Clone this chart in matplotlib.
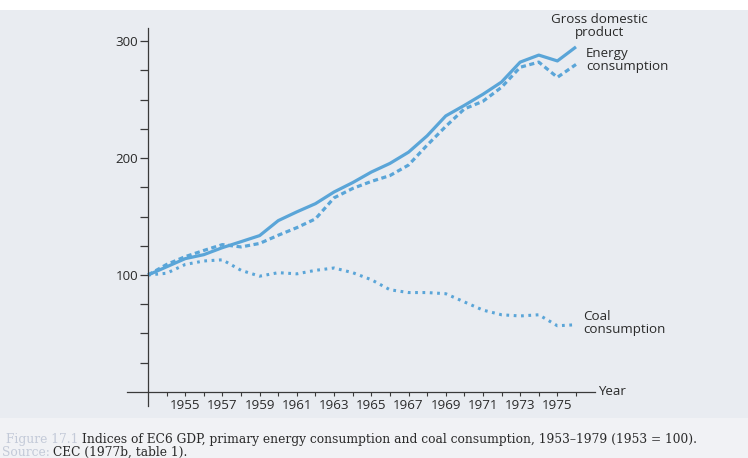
import matplotlib
matplotlib.use("Agg")
import matplotlib.pyplot as plt
from matplotlib.patches import Rectangle

years = list(range(1953, 1977))
gdp = [100, 107, 114, 117.4, 123.4, 128.5, 133.7, 146.5, 154, 161, 171, 179, 188,
       195.4, 205, 219, 236, 245, 254.5, 265, 282, 288, 283, 295]
energy = [100, 109, 115.7, 121, 126, 124, 127, 134, 140.5, 148, 166, 174, 180,
          185, 194, 211, 227, 242, 248.5, 260.5, 277.6, 282, 269, 280]
coal = [100, 101.5, 109, 112, 113, 104, 99, 102, 101, 104, 106, 102, 96,
        87.4, 85, 85, 84, 77, 70, 66, 65, 66, 56.6, 57.5]

minor_ticks = list(range(25, 325, 25))
major_ticks = [100, 200, 300]
xtick_years = list(range(1954, 1977))
xlabel_years = list(range(1955, 1976, 2))

W, H = 748, 458
fig = plt.figure(figsize=(W / 100, H / 100), dpi=100)
fig.patch.set_facecolor('#e9ecf1')
fig.patches.append(Rectangle((0, 1 - 10 / H), 1, 10 / H, transform=fig.transFigure,
                             facecolor='white', edgecolor='none', zorder=0))
fig.patches.append(Rectangle((0, 0), 1, 40 / H, transform=fig.transFigure,
                             facecolor='#f1f2f5', edgecolor='none', zorder=0))

ax = fig.add_axes([120 / W, 1 - 410 / H, 480 / W, 390 / H])
ax.set_facecolor('none')
ax.set_xlim(1951.495, 1977.29)
ax.set_ylim(-15.4, 318)

col = '#5aa5d8'
ax.plot(years, gdp, color=col, lw=2.3, solid_capstyle='butt', solid_joinstyle='round')
ax.plot(years, energy, color=col, lw=2.3, linestyle=(0, (1.6, 1.1)))
ax.plot(years, coal, color=col, lw=2.2, linestyle=(0, (0.9, 1.5)))

axc = '#3a3a3a'
for s in ['top', 'right']:
    ax.spines[s].set_visible(False)
ax.spines['left'].set_position(('data', 1953))
ax.spines['bottom'].set_position(('data', 0))
ax.spines['left'].set_bounds(-12, 311)
ax.spines['bottom'].set_bounds(1951.87, 1977.02)
for s in ['left', 'bottom']:
    ax.spines[s].set_color(axc)
    ax.spines[s].set_linewidth(0.9)

tfont = dict(family=['Open Sans', 'DejaVu Sans'], size=9.6, color='#2a2a2a')
ax.set_yticks(minor_ticks)
ax.set_yticklabels([str(v) if v in major_ticks else '' for v in minor_ticks], **tfont)
ax.tick_params(axis='y', direction='out', length=6, width=0.9, color=axc, pad=1)
ax.set_xticks(xtick_years)
ax.set_xticklabels([str(v) if v in xlabel_years else '' for v in xtick_years], **tfont)
ax.tick_params(axis='x', direction='out', length=3, width=0.8, color=axc, pad=2)

lfont = dict(family=['Open Sans', 'DejaVu Sans'], size=9.6, color='#2a2a2a', linespacing=1.0)
ax.text(1977.2, 0, 'Year', ha='left', va='center', **lfont)
ax.text(1977.25, 313, 'Gross domestic\nproduct', ha='center', va='center', **lfont)
ax.text(1976.55, 284, 'Energy\nconsumption', ha='left', va='center', **lfont)
ax.text(1976.4, 59, 'Coal\nconsumption', ha='left', va='center', **lfont)

cfont = dict(family=['DejaVu Serif'], size=8.8)
fig.text(78 / W, 1 - 440 / H, 'Figure 17.1', ha='right', va='center', color='#c3cad8', **cfont)
fig.text(82 / W, 1 - 440 / H,
         'Indices of EC6 GDP, primary energy consumption and coal consumption, 1953\u20131979 (1953 = 100).',
         ha='left', va='center', color='#2a2a2a', **cfont)
fig.text(50 / W, 1 - 452 / H, 'Source:', ha='right', va='center', color='#c3cad8', **cfont)
fig.text(53 / W, 1 - 452 / H, 'CEC (1977b, table 1).', ha='left', va='center', color='#2a2a2a', **cfont)

fig.savefig('out.png', dpi=100, facecolor=fig.get_facecolor())
